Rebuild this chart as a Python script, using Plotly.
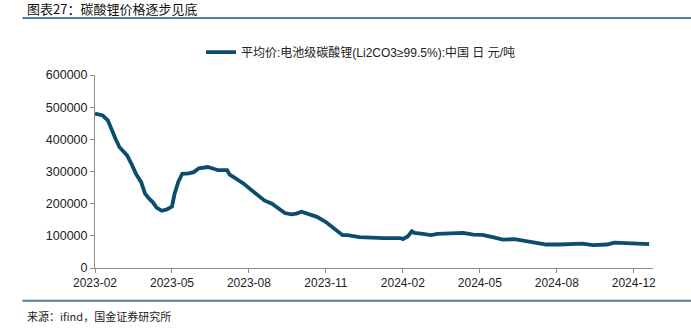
import plotly.graph_objects as go

# Battery-grade lithium carbonate average price (CNY/t), sampled along trading days
trade_day = [0, 6, 10, 13, 16, 19, 25, 29, 32, 36, 39, 42, 45, 48, 52, 56, 60, 62, 65, 68,
             73, 77, 81, 88, 92, 96, 103, 105, 109, 116, 122, 127, 132, 138, 143, 148, 153,
             157, 161, 166, 173, 180, 187, 193, 197, 204, 206, 225, 238, 240, 244, 247, 249,
             254, 260, 262, 267, 277, 284, 287, 295, 302, 310, 318, 327, 334, 344, 352, 362,
             367, 380, 388, 399, 405, 414, 425, 432]
price = [480000, 474000, 459000, 428000, 402000, 376000, 350000, 319000, 292000, 267000,
         231000, 216000, 205000, 188000, 178000, 182000, 191000, 230000, 268000, 293000,
         294000, 298000, 310000, 314000, 309000, 304000, 304000, 290000, 280000, 262000,
         242000, 226000, 210000, 200000, 185000, 171000, 167000, 169000, 175000, 167000,
         159000, 143000, 122000, 102000, 102000, 96000, 96000, 93000, 93000, 90000, 99000,
         114000, 109000, 107000, 105000, 102000, 106000, 107000, 107000, 109000, 104000,
         103000, 96000, 88000, 90000, 86000, 78000, 73000, 73000, 74000, 76000, 71000,
         73000, 79000, 78000, 76000, 74000]

tick_days = [0, 60, 120, 180, 240, 300, 360, 420]
tick_labels = ["2023-02", "2023-05", "2023-08", "2023-11", "2024-02", "2024-05", "2024-08", "2024-12"]

series_name = "平均价:电池级碳酸锂(Li2CO3≥99.5%):中国 日 元/吨"
line_color = "#0c4d6e"
font_family = "Liberation Sans, Arial, Noto Sans CJK SC"

fig = go.Figure()
fig.add_trace(go.Scatter(
    x=trade_day, y=price, mode="lines", name=series_name,
    line=dict(color=line_color, width=3.8),
))

fig.update_layout(
    width=691, height=329,
    margin=dict(l=95, r=38, t=75, b=61),
    paper_bgcolor="white", plot_bgcolor="white",
    font=dict(family=font_family, size=12, color="#222222"),
    showlegend=True,
    legend=dict(x=0.19, y=1.119, xanchor="left", yanchor="middle",
                font=dict(size=12, color="#222222"), bgcolor="rgba(0,0,0,0)"),
    xaxis=dict(
        range=[0, 435], tickmode="array", tickvals=tick_days, ticktext=tick_labels,
        showgrid=False, zeroline=False, showline=True, linecolor="#8c8c8c", linewidth=1,
        ticks="outside", ticklen=4, tickcolor="#8c8c8c", tickfont=dict(size=12),
    ),
    yaxis=dict(
        range=[0, 600000], tickmode="array",
        tickvals=[0, 100000, 200000, 300000, 400000, 500000, 600000],
        ticktext=["0", "100000", "200000", "300000", "400000", "500000", "600000"],
        showgrid=False, zeroline=False, showline=True, linecolor="#8c8c8c", linewidth=1,
        ticks="outside", ticklen=4, tickcolor="#8c8c8c", tickfont=dict(size=12.5),
    ),
)

# Report-style header, rules and source line
fig.add_annotation(text="图表27：碳酸锂价格逐步见底", xref="paper", yref="paper",
                   x=-0.126, y=1.345, xanchor="left", yanchor="middle", showarrow=False,
                   font=dict(size=13, color="#111111", family="Noto Sans CJK SC"))
fig.add_shape(type="line", xref="paper", yref="paper", x0=-0.13, x1=1.07, y0=1.295, y1=1.295,
              line=dict(color="#4f7fa6", width=2))
fig.add_shape(type="line", xref="paper", yref="paper", x0=-0.13, x1=1.07, y0=-0.17, y1=-0.17,
              line=dict(color="#4f7fa6", width=2))
fig.add_annotation(text="来源：ifind，国金证券研究所", xref="paper", yref="paper",
                   x=-0.125, y=-0.25, xanchor="left", yanchor="middle", showarrow=False,
                   font=dict(size=11, color="#222222", family="Noto Sans CJK SC"))

fig.write_html("out.html")
